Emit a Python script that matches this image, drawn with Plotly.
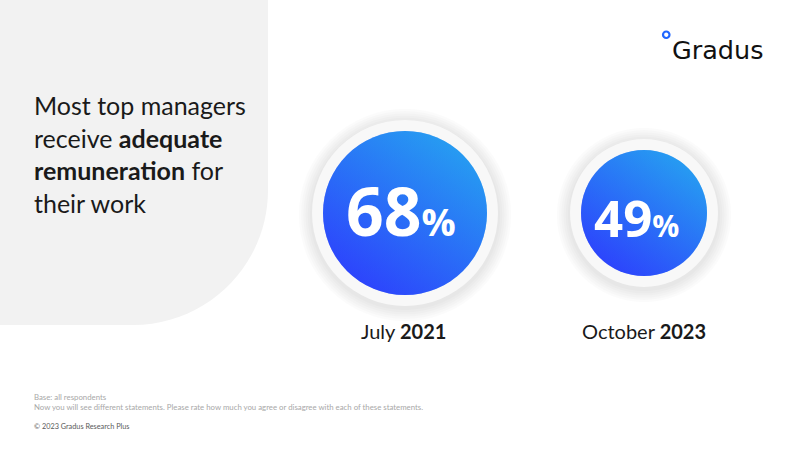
import plotly.graph_objects as go

# data
months = ["July", "October"]
years = ["2021", "2023"]
shares = [68, 49]

title_lines = [
    "Most top managers",
    "receive <b>adequate</b>",
    "<b>remuneration</b> for",
    "their work",
]
base_note = "Base: all respondents"
question_note = ("Now you will see different statements. Please rate how much you agree "
                 "or disagree with each of these statements.")
copyright_note = "© 2023 Gradus Research Plus"

# style
W, H = 800, 450
CENTER_Y = 213
DISC_R = [82, 63]
RING_W = 11
NUM_SIZE = [66, 51]
NUM_SHIFT = [(-4, 3), (-8, -4)]
LABEL_SHIFT = [-2, 0]
DEEP = "#0a12ff"
LIGHT = "#009eee"
TEXT_FONT = "Lato"


def px(x):
    return x / W


def py(y):
    return 1 - y / H


cats = [f"{m} {y}" for m, y in zip(months, years)]
centre = [CENTER_Y] * len(cats)

data = []

# soft shadow around the white rings
for k in range(1, 7):
    data.append(go.Scatter(
        x=cats, y=[c + 2 for c in centre], mode="markers",
        marker=dict(size=[2 * (r + RING_W + k * 2.2) for r in DISC_R],
                    color="rgba(0,0,0,0.02)", line=dict(width=0)),
        hoverinfo="skip", showlegend=False,
    ))

# white ring
data.append(go.Scatter(
    x=cats, y=centre, mode="markers",
    marker=dict(size=[2 * (r + RING_W) for r in DISC_R], color="white", line=dict(width=0)),
    hoverinfo="skip", showlegend=False,
))

# blue disc: horizontal + half-opaque vertical gradient = diagonal gradient
data.append(go.Scatter(
    x=cats, y=centre, mode="markers",
    marker=dict(size=[2 * r for r in DISC_R], color=DEEP,
                gradient=dict(type="horizontal", color=LIGHT), line=dict(width=0)),
    hoverinfo="skip", showlegend=False,
))
data.append(go.Scatter(
    x=cats, y=centre, mode="markers",
    marker=dict(size=[2 * r for r in DISC_R], color=LIGHT, opacity=0.5,
                gradient=dict(type="vertical", color=DEEP), line=dict(width=0)),
    hoverinfo="skip", showlegend=False,
))

fig = go.Figure(data=data)

# grey panel with rounded bottom-right corner
k = 0.5523 * 135
panel = (f"M {px(-5)},{py(-5)} L {px(268)},{py(-5)} L {px(268)},{py(190)} "
         f"C {px(268)},{py(190 + k)} {px(133 + k)},{py(325)} {px(133)},{py(325)} "
         f"L {px(-5)},{py(325)} Z")
shapes = [
    dict(type="path", xref="paper", yref="paper", path=panel,
         fillcolor="#f2f2f2", line=dict(width=0), layer="below"),
    dict(type="circle", xref="paper", yref="paper",
         x0=px(663), x1=px(669.5), y0=py(38), y1=py(31.5),
         fillcolor="white", line=dict(color="#1f66ff", width=2.2)),
]

annotations = [
    dict(text="<br>".join(title_lines), xref="paper", yref="paper",
         x=px(32), y=py(154), xanchor="left", yanchor="middle", align="left",
         showarrow=False, font=dict(family=TEXT_FONT, size=25, color="#1a1a1a")),
    dict(text="Gradus", xref="paper", yref="paper", x=px(718), y=py(50),
         xanchor="center", yanchor="middle", showarrow=False,
         font=dict(family="DejaVu Sans", size=25.5, color="#111111")),
    dict(text=base_note, xref="paper", yref="paper", x=px(32), y=py(397),
         xanchor="left", yanchor="middle", showarrow=False,
         font=dict(family=TEXT_FONT, size=7.8, color="#a8a8a8")),
    dict(text=question_note, xref="paper", yref="paper", x=px(32), y=py(407),
         xanchor="left", yanchor="middle", showarrow=False,
         font=dict(family=TEXT_FONT, size=7.8, color="#a8a8a8")),
    dict(text=copyright_note, xref="paper", yref="paper", x=px(32), y=py(426),
         xanchor="left", yanchor="middle", showarrow=False,
         font=dict(family=TEXT_FONT, size=7.3, color="#595959")),
]

# percentage labels inside the discs and period labels below
for c, v, s, (dx, dy) in zip(cats, shares, NUM_SIZE, NUM_SHIFT):
    annotations.append(dict(
        text=f"<b>{v}</b><span style='font-size:{round(s * 0.58)}px'><b>%</b></span>",
        x=c, y=CENTER_Y, xref="x", yref="y", xshift=dx, yshift=dy,
        xanchor="center", yanchor="middle", showarrow=False,
        font=dict(family="Open Sans", size=s, color="white"),
    ))
for c, m, y, dx in zip(cats, months, years, LABEL_SHIFT):
    annotations.append(dict(
        text=f"{m} <b>{y}</b>", x=c, y=331, xref="x", yref="y", xshift=dx,
        xanchor="center", yanchor="middle", showarrow=False,
        font=dict(family=TEXT_FONT, size=20, color="#1a1a1a"),
    ))

fig.update_layout(
    width=W, height=H,
    margin=dict(l=0, r=0, t=0, b=0),
    paper_bgcolor="white", plot_bgcolor="white",
    xaxis=dict(type="category", range=[-1.6946, 1.6527], visible=False, fixedrange=True),
    yaxis=dict(range=[H, 0], visible=False, fixedrange=True),
    shapes=shapes,
    annotations=annotations,
    showlegend=False,
)

fig.write_html("out.html", config={"displayModeBar": False},
               post_script="document.body.style.margin = '0';")
